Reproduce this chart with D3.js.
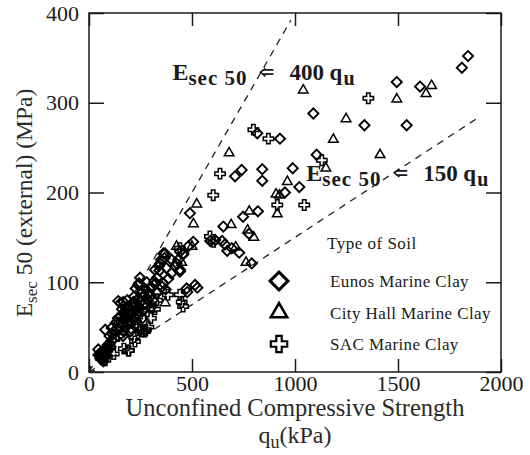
<!DOCTYPE html>
<html>
<head>
<meta charset="utf-8">
<script src="https://cdn.jsdelivr.net/npm/d3@7"></script>
<style>
  body { margin: 0; background: #fff; overflow: hidden; }
  svg { display: block; }
</style>
</head>
<body>
<div id="chart"></div>
<script>
// [qu (kPa), Esec50 (MPa)]
const eunos = [
    [1840,352],[1810,339],[1494,323],[1607,318],[1089,288],[1337,275],[1542,275],
    [817,266],[927,260],[1105,242],[741,225],[709,218],[841,226],[841,213],[989,227],
    [951,200],[1021,206],[820,179],[748,173],[777,154],[790,121],[652,162],[612,147],
    [660,142],[693,138],[729,133],[506,145],[482,140],[442,134],[361,132],[490,177],
    [526,94],[477,89],[515,97],[474,93],[372,92],[367,127],[243,99],[227,93],[239,97],
    [317,101],[342,113],[375,116],[433,125],[441,112],[457,131],[589,146],[646,146],[671,135],
    [320,114],[345,121],[369,132],[401,125],[425,121],[442,114],[458,132],
    [46,19],[51,20],[63,17],[71,22],[86,19],[55,15],[45,25],[80,26],[90,30],[100,40],[79,47],[110,49],
    [120,45],[130,55],[140,60],[142,79],[167,78],[153,77],[186,80],[219,84],[160,70],[170,65],[180,72],
    [200,62],[210,75],[230,70],[240,82],[250,78],[260,68],[270,85],[290,88],[300,95],[320,98],
    [330,105],[340,118],[350,125],[280,100],[248,105],[190,55],[150,50],[205,48],[215,58],[225,52],
    [110,35],[260,60],[310,80],[330,88],[400,110],[420,118],[385,104],[355,95],[300,72],[170,45],
    [195,66],[235,64],[361,99],
    [60,20],[65,14],[75,18],[58,22],[95,25],[105,28],[70,12],[85,23],
    [145,55],[155,62],[165,58],[175,68],[185,60],[195,72],[205,68],[215,78],[225,74],[180,50],
    [200,45],[220,62],[245,72],[255,88],[265,75],[275,92],[285,80],[295,84],[165,40],[135,48],
    [125,38],[115,42]
];

const cityHall = [
    [1663,319],[1636,310],[1040,314],[1494,304],[1248,282],[1186,259],[680,244],[1413,242],
    [1150,227],[963,212],[908,198],[925,197],[914,176],[778,179],[770,158],[800,150],[762,122],
    [523,187],[507,165],[690,164],[712,139],[425,140],[370,77],[500,140],[450,122],
    [330,90],[280,75],[230,60],[200,55],[180,60],[250,50],[300,70],[160,45]
];

const sac = [
    [1356,305],[798,270],[871,260],[1130,236],[636,221],[603,197],[914,186],[1045,186],
    [587,151],[605,145],[441,138],[441,86],[457,73],[383,86],[191,24],[223,34],[272,45],
    [288,50],[450,78],[79,13],[120,20],[194,24],[169,26],[219,39],[248,47],[260,45],[276,47],
    [250,65],[210,55],[300,60],[330,80],[260,90],[180,65],[140,40],[100,30],[230,78],[320,70]
];

const xTicks = [0, 500, 1000, 1500, 2000];
const yTicks = [0, 100, 200, 300, 400];
const slopes = [400, 150];          // Esec50 = k * qu
const lineEnds = [980, 1900];       // qu where each dashed line stops
const legendLabels = ["Eunos Marine Clay", "City Hall Marine Clay", "SAC Marine Clay"];

const width = 530;
const height = 455;
const margin = { top: 13, right: 29, bottom: 83, left: 89 };
const innerWidth = width - margin.left - margin.right;
const innerHeight = height - margin.top - margin.bottom;

const serif = "'Liberation Serif', 'Times New Roman', 'DejaVu Serif', serif";
const ink = "#1a1a1a";

const svg = d3.select("#chart")
    .append("svg")
    .attr("width", width)
    .attr("height", height);

const innerChart = svg.append("g")
    .attr("transform", `translate(${margin.left}, ${margin.top})`);

const xScale = d3.scaleLinear().domain([0, 2000]).range([0, innerWidth]);
const yScale = d3.scaleLinear().domain([0, 400]).range([innerHeight, 0]);

// axes, ticks pointing inward on all four sides
innerChart.append("g")
    .attr("class", "axis-x")
    .attr("transform", `translate(0, ${innerHeight})`)
    .call(d3.axisBottom(xScale).tickValues(xTicks).tickSize(-13).tickPadding(3)
        .tickFormat(d3.format("d")));

innerChart.append("g")
    .attr("class", "axis-x-top")
    .call(d3.axisTop(xScale).tickValues(xTicks).tickSize(-13).tickFormat(""));

innerChart.append("g")
    .attr("class", "axis-y")
    .call(d3.axisLeft(yScale).tickValues(yTicks).tickSize(-15).tickPadding(10)
        .tickFormat(d3.format("d")));

innerChart.append("g")
    .attr("class", "axis-y-right")
    .attr("transform", `translate(${innerWidth}, 0)`)
    .call(d3.axisRight(yScale).tickValues(yTicks).tickSize(-15).tickFormat(""));

innerChart.selectAll(".domain").remove();
innerChart.selectAll(".axis-x-top text, .axis-y-right text").remove();
innerChart.selectAll(".tick line")
    .attr("stroke", ink)
    .attr("stroke-width", 1.5);
innerChart.selectAll(".tick text")
    .style("font-family", serif)
    .style("font-size", "22px")
    .attr("fill", ink);

innerChart.append("rect")
    .attr("width", innerWidth)
    .attr("height", innerHeight)
    .attr("fill", "none")
    .attr("stroke", ink)
    .attr("stroke-width", 1.5);

// dashed reference lines
innerChart.selectAll(".ref-line")
    .data(slopes)
    .join("line")
        .attr("class", "ref-line")
        .attr("x1", xScale(0))
        .attr("y1", yScale(0))
        .attr("x2", (d, i) => xScale(lineEnds[i]))
        .attr("y2", (d, i) => yScale(d * lineEnds[i] / 1000))
        .attr("stroke", "#222")
        .attr("stroke-width", 1.3)
        .attr("stroke-dasharray", "7,6");

// little arrow head at the origin
innerChart.append("path")
    .attr("d", `M${xScale(0) + 6},${yScale(0) - 1.5} L${xScale(0) + 1},${yScale(0) - 1} L${xScale(0) + 1.5},${yScale(0) - 6}`)
    .attr("fill", "none")
    .attr("stroke", ink)
    .attr("stroke-width", 1.2);

// markers
const diamond = d3.symbol(d3.symbolSquare, 52);
const triangle = d3.symbol(d3.symbolTriangle, 40);
const plus = d3.symbol(d3.symbolCross, 60);

innerChart.selectAll(".eunos")
    .data(eunos)
    .join("path")
        .attr("class", "eunos")
        .attr("d", diamond)
        .attr("transform", d => `translate(${xScale(d[0])}, ${yScale(d[1])}) rotate(45)`)
        .attr("fill", "none")
        .attr("stroke", "#000")
        .attr("stroke-width", 1.9);

innerChart.selectAll(".city")
    .data(cityHall)
    .join("path")
        .attr("class", "city")
        .attr("d", triangle)
        .attr("transform", d => `translate(${xScale(d[0])}, ${yScale(d[1])})`)
        .attr("fill", "none")
        .attr("stroke", "#000")
        .attr("stroke-width", 1.5);

innerChart.selectAll(".sac")
    .data(sac)
    .join("path")
        .attr("class", "sac")
        .attr("d", plus)
        .attr("transform", d => `translate(${xScale(d[0])}, ${yScale(d[1])})`)
        .attr("fill", "none")
        .attr("stroke", "#000")
        .attr("stroke-width", 1.5);

// equation labels
const eqLabels = [
    { k: slopes[0], qu: 405, E: 325 },
    { k: slopes[1], qu: 1055, E: 213 }
];
const pieceX = [0, 16, 89, 117, 157, 171];

eqLabels.forEach(l => {
    const x0 = xScale(l.qu);
    const y0 = yScale(l.E);
    const t = innerChart.append("text")
        .attr("y", y0)
        .attr("fill", ink)
        .style("font-family", serif)
        .style("font-weight", "bold")
        .style("font-size", "23px");
    t.append("tspan").attr("x", x0 + pieceX[0]).style("font-size", "24px").text("E");
    t.append("tspan").attr("x", x0 + pieceX[1]).attr("dy", 5)
        .style("font-size", "21px")
        .style("letter-spacing", "1px").text("sec 50");
    t.append("tspan").attr("x", x0 + pieceX[2]).attr("dy", -5).text("=");
    t.append("tspan").attr("x", x0 + pieceX[3]).text(l.k);
    t.append("tspan").attr("x", x0 + pieceX[4]).text("q");
    t.append("tspan").attr("x", x0 + pieceX[5]).attr("dy", 5).style("font-size", "20px").text("u");

    innerChart.append("path")
        .attr("d", `M${x0 + pieceX[2] + 4},${y0 - 12} L${x0 + pieceX[2] - 1},${y0 - 8} L${x0 + pieceX[2] + 4},${y0 - 4}`)
        .attr("fill", "none")
        .attr("stroke", ink)
        .attr("stroke-width", 1.6);
});

// legend
const legend = svg.append("g").attr("class", "legend");

legend.append("text")
    .attr("x", 327)
    .attr("y", 249)
    .attr("fill", ink)
    .style("font-family", serif)
    .style("font-size", "17px")
    .style("letter-spacing", "0.5px")
    .text("Type of Soil");

const legendSymbols = [
    { sym: d3.symbol(d3.symbolSquare, 160), rot: 45, sw: 3 },
    { sym: d3.symbol(d3.symbolTriangle, 115), rot: 0, sw: 2.6 },
    { sym: d3.symbol(d3.symbolCross, 150), rot: 0, sw: 2.2 }
];

legendLabels.forEach((label, i) => {
    const cy = 281 + i * 31.5;
    legend.append("path")
        .attr("d", legendSymbols[i].sym)
        .attr("transform", `translate(279, ${cy}) rotate(${legendSymbols[i].rot})`)
        .attr("fill", "none")
        .attr("stroke", "#000")
        .attr("stroke-width", legendSymbols[i].sw);
    legend.append("text")
        .attr("x", 330)
        .attr("y", cy + 6)
        .attr("fill", ink)
        .style("font-family", serif)
        .style("font-size", "17px")
        .style("letter-spacing", "0.4px")
        .text(label);
});

// axis titles
svg.append("text")
    .attr("x", margin.left + innerWidth / 2)
    .attr("y", 416)
    .attr("text-anchor", "middle")
    .attr("fill", "#2a2a2a")
    .style("font-family", serif)
    .style("font-size", "24.5px")
    .text("Unconfined Compressive Strength");

const xSub = svg.append("text")
    .attr("x", margin.left + innerWidth / 2)
    .attr("y", 443)
    .attr("text-anchor", "middle")
    .attr("fill", "#2a2a2a")
    .style("font-family", serif)
    .style("font-size", "24px");
xSub.append("tspan").text("q");
xSub.append("tspan").attr("dy", 5).style("font-size", "18px").text("u");
xSub.append("tspan").attr("dy", -5).text("(kPa)");

const yTitle = svg.append("text")
    .attr("transform", "translate(32, 203) rotate(-90)")
    .attr("text-anchor", "middle")
    .attr("fill", "#2a2a2a")
    .style("font-family", serif)
    .style("font-size", "23.5px");
yTitle.append("tspan").text("E");
yTitle.append("tspan").attr("dy", 5).style("font-size", "17px").text("sec");
yTitle.append("tspan").attr("dy", -5).text(" 50 (external) (MPa)");
</script>
</body>
</html>
